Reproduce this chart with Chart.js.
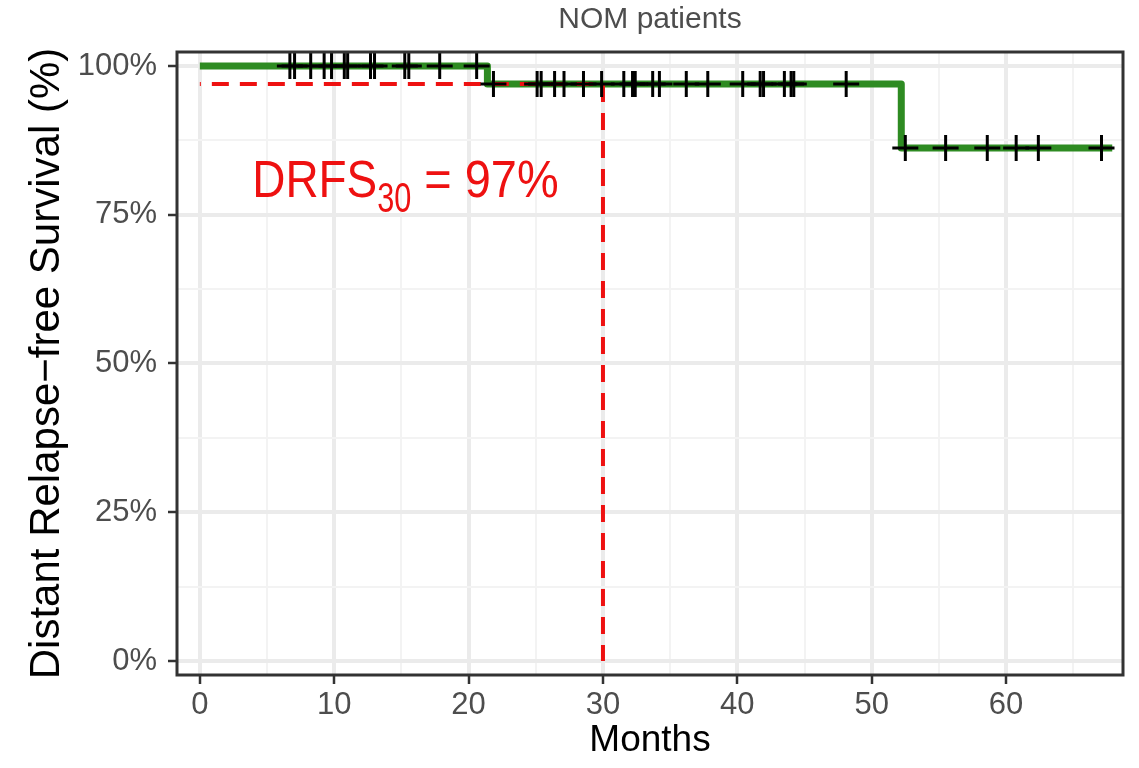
<!DOCTYPE html>
<html>
<head>
<meta charset="utf-8">
<script src="https://cdn.jsdelivr.net/npm/chart.js@4.4.1/dist/chart.umd.min.js"></script>
<style>
  html, body { margin:0; padding:0; background:#fff; }
  #wrap { width:1139px; height:768px; }
</style>
</head>
<body>
<div id="wrap"><canvas id="chart" width="1139" height="768"></canvas></div>
<script>
// Kaplan-Meier step curve: event times (months) and survival (%)
const kmTimes = [0, 21.4, 52.2, 67.9];
const kmSurv  = [100, 96.97, 86.2, 86.2];

// censored patients, grouped by the survival level they sit on
const censorAt100 = [6.7, 7.05, 8.25, 9.25, 9.8, 10.75, 11.0, 12.7, 13.0, 15.25, 15.55, 17.85, 20.6];
const censorAt97  = [21.85, 25.1, 25.4, 26.4, 27.1, 28.55, 29.9, 31.55, 32.2, 32.4, 33.7, 34.2,
                     36.2, 37.8, 40.4, 41.7, 41.95, 43.5, 44.0, 44.2, 48.1];
const censorAt86  = [52.5, 55.5, 58.6, 60.75, 62.4, 67.1];

// 30-month landmark
const landmarkMonth = 30;
const drfs30 = 96.97;

const xMajor = [0, 10, 20, 30, 40, 50, 60];
const xMinor = [5, 15, 25, 35, 45, 55, 65];
const yMajor = [0, 25, 50, 75, 100];
const yMinor = [12.5, 37.5, 62.5, 87.5];

const GREEN = '#2e8b22';
const RED = '#ee1111';
const FONT = "'Liberation Sans', Arial, sans-serif";

const levelOf = t => {
  let s = kmSurv[0];
  kmTimes.forEach((k, i) => { if (t >= k) s = kmSurv[i]; });
  return s;
};
const pts = (xs, y) => xs.map(x => ({ x: x, y: y }));

// plot frame drawn on top of the panel, like a bordered theme
const frame = {
  id: 'frame',
  afterDatasetsDraw(chart) {
    const { ctx, chartArea: a } = chart;
    ctx.save();
    ctx.strokeStyle = '#333333';
    ctx.lineWidth = 3;
    ctx.strokeRect(a.left, a.top, a.right - a.left, a.bottom - a.top);
    ctx.restore();
  }
};

// panel title centred over the plotting area
const panelTitle = {
  id: 'panelTitle',
  afterDraw(chart) {
    const { ctx, chartArea: a } = chart;
    ctx.save();
    ctx.font = '30px ' + FONT;
    ctx.fillStyle = '#4d4d4d';
    ctx.textAlign = 'center';
    ctx.textBaseline = 'alphabetic';
    ctx.fillText('NOM patients', (a.left + a.right) / 2, 28);
    ctx.restore();
  }
};

// DRFS label with subscript
const drfsLabel = {
  id: 'drfsLabel',
  afterDatasetsDraw(chart) {
    const { ctx } = chart;
    const xs = chart.scales.x, ys = chart.scales.y;
    let x = xs.getPixelForValue(3.9);
    const y = ys.getPixelForValue(78);
    const part = (txt, size, sx, dy) => {
      ctx.save();
      ctx.font = size + 'px ' + FONT;
      const w = ctx.measureText(txt).width;
      ctx.translate(x, y + dy);
      ctx.scale(sx, 1);
      ctx.fillText(txt, 0, 0);
      ctx.restore();
      x += w * sx;
    };
    ctx.save();
    ctx.fillStyle = RED;
    ctx.textBaseline = 'alphabetic';
    part('DRFS', 51, 0.9, 0);
    part(String(landmarkMonth), 42, 0.73, 15);
    part(' = ' + Math.round(drfs30) + '%', 51, 0.92, 0);
    ctx.restore();
  }
};

const isIn = (arr, v) => arr.some(m => Math.abs(m - v) < 1e-6);

const axisGrid = majors => ({
  color: c => isIn(majors, c.tick.value) ? '#ebebeb' : '#f3f3f3',
  lineWidth: c => isIn(majors, c.tick.value) ? 4 : 2,
  drawTicks: true,
  tickLength: 9,
  tickWidth: 2.5,
  tickColor: c => isIn(majors, c.tick.value) ? '#333333' : 'rgba(0,0,0,0)'
});

const censorSet = (xs, y) => ({
  data: pts(xs, y),
  showLine: false,
  pointStyle: 'cross',
  pointRadius: 13,
  pointHoverRadius: 13,
  pointBorderWidth: 3,
  pointBorderColor: '#000',
  borderColor: '#000',
  order: 0
});

new Chart(document.getElementById('chart').getContext('2d'), {
  type: 'line',
  data: {
    datasets: [
      censorSet(censorAt100, 100),
      censorSet(censorAt97, levelOf(25)),
      censorSet(censorAt86, levelOf(60)),
      {
        // landmark guide at 30 months
        data: [{ x: 0, y: drfs30 }, { x: landmarkMonth, y: drfs30 }, { x: landmarkMonth, y: 0 }],
        borderColor: RED,
        borderWidth: 4,
        borderDash: [17, 11],
        borderDashOffset: 16,
        borderCapStyle: 'butt',
        pointRadius: 0,
        tension: 0,
        order: 1
      },
      {
        data: kmTimes.map((t, i) => ({ x: t, y: kmSurv[i] })),
        stepped: 'before',
        borderColor: GREEN,
        borderWidth: 7,
        borderJoinStyle: 'round',
        borderCapStyle: 'butt',
        pointRadius: 0,
        order: 2
      }
    ]
  },
  options: {
    responsive: false,
    animation: false,
    layout: { padding: { top: 52, right: 9, left: 0, bottom: 0 } },
    plugins: { legend: { display: false }, tooltip: { enabled: false } },
    scales: {
      x: {
        type: 'linear',
        min: -1.7,
        max: 68.7,
        afterBuildTicks: s => { s.ticks = xMajor.concat(xMinor).sort((a, b) => a - b).map(v => ({ value: v })); },
        afterFit: s => { s.height = 93; },
        grid: axisGrid(xMajor),
        border: { display: false },
        ticks: {
          autoSkip: false,
          maxRotation: 0,
          padding: 3,
          color: '#4d4d4d',
          font: { family: FONT, size: 31 },
          callback: v => isIn(xMajor, v) ? String(v) : ''
        },
        title: {
          display: true,
          text: 'Months',
          color: '#000',
          font: { family: FONT, size: 37 },
          padding: { top: 0, bottom: 5 }
        }
      },
      y: {
        type: 'linear',
        min: -2.35,
        max: 102.35,
        afterBuildTicks: s => { s.ticks = yMajor.concat(yMinor).sort((a, b) => a - b).map(v => ({ value: v })); },
        afterFit: s => { s.width = 177; },
        grid: axisGrid(yMajor),
        border: { display: false },
        ticks: {
          autoSkip: false,
          padding: 11,
          color: '#4d4d4d',
          font: { family: FONT, size: 31 },
          callback: v => isIn(yMajor, v) ? v + '%' : ''
        },
        title: {
          display: true,
          text: 'Distant Relapse\u2212free Survival (%)',
          color: '#000',
          font: { family: FONT, size: 42 },
          padding: { top: 22, bottom: 0 }
        }
      }
    }
  },
  plugins: [frame, panelTitle, drfsLabel]
});
</script>
</body>
</html>
